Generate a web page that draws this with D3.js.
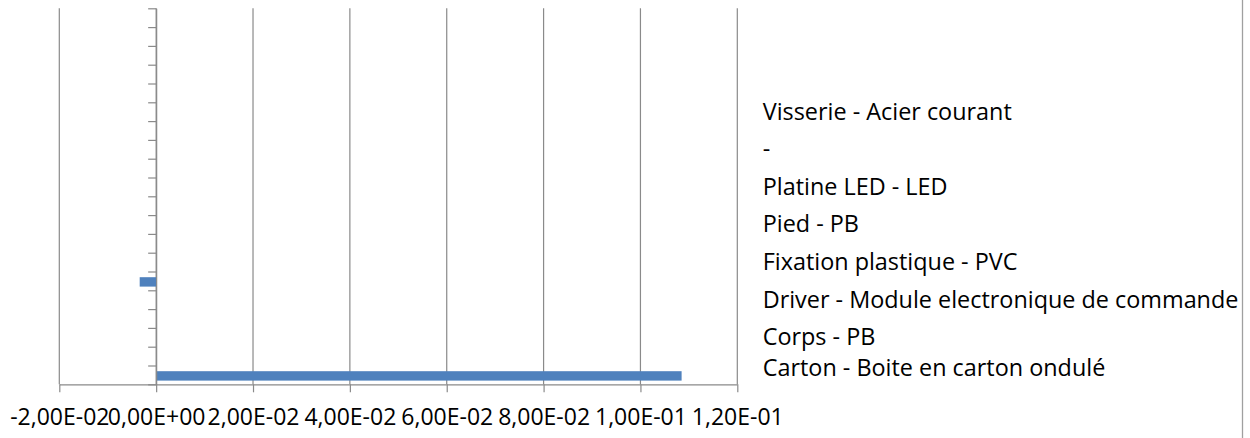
<!DOCTYPE html>
<html>
<head>
<meta charset="utf-8">
<script src="https://cdn.jsdelivr.net/npm/d3@7"></script>
<style>
  html, body { margin: 0; padding: 0; background: #fff; }
  svg { display: block; }
  text { font-family: "Open Sans", "Noto Sans", sans-serif; fill: #000; }
</style>
</head>
<body>
<svg id="chart" width="1250" height="438"></svg>
<script>
// ---- Data ----
const categories = d3.range(1, 21).map(String);   // 20 category slots (unlabelled)
const values = [0.1085, 0, 0, 0, 0, -0.0034, 0, 0, 0, 0, 0, 0, 0, 0, 0, 0, 0, 0, 0, 0];
const xTickValues = [-0.02, 0, 0.02, 0.04, 0.06, 0.08, 0.10, 0.12];
const xTickLabels = ["-2,00E-02", "0,00E+00", "2,00E-02", "4,00E-02", "6,00E-02", "8,00E-02", "1,00E-01", "1,20E-01"];
const legendLabels = [
  "Visserie - Acier courant",
  "-",
  "Platine LED - LED",
  "Pied - PB",
  "Fixation plastique - PVC",
  "Driver - Module electronique de commande",
  "Corps - PB",
  "Carton - Boite en carton ondulé"
];

// ---- Layout ----
const W = 1250, H = 438;
const plot = { left: 59.3, right: 737.3, top: 8.3, bottom: 384.3 };
const gridColor = "#8a8a8a";
const barColor = "#4f81bd";

const svg = d3.select("#chart");

const x = d3.scaleLinear().domain([-0.02, 0.12]).range([plot.left, plot.right]);
const y = d3.scaleBand().domain(categories).range([plot.bottom, plot.top])
  .paddingInner(0.5).paddingOuter(0.25);
const yEdge = d3.scaleLinear().domain([0, categories.length]).range([plot.bottom, plot.top]);

// vertical gridlines
svg.append("g").selectAll("line").data(xTickValues).join("line")
  .attr("x1", d => x(d)).attr("x2", d => x(d))
  .attr("y1", plot.top).attr("y2", plot.bottom)
  .attr("stroke", gridColor).attr("stroke-width", 1.2);

// bars
svg.append("g").selectAll("rect").data(values).join("rect")
  .attr("x", d => x(Math.min(0, d)))
  .attr("width", d => Math.abs(x(d) - x(0)))
  .attr("y", (d, i) => y(categories[i]) + 1)
  .attr("height", y.bandwidth())
  .attr("fill", barColor);

// bottom axis
const xAxis = svg.append("g").attr("transform", `translate(0,${plot.bottom})`)
  .call(d3.axisBottom(x).tickValues(xTickValues)
    .tickFormat((d, i) => xTickLabels[i]).tickSize(8).tickSizeOuter(0));
xAxis.select(".domain").attr("stroke", gridColor).attr("stroke-width", 1.2);
xAxis.selectAll(".tick line").attr("stroke", gridColor).attr("stroke-width", 1.2);
xAxis.selectAll(".tick text").attr("y", 41).attr("dy", null)
  .style("font-size", "23px").attr("fill", "#000");

// vertical category axis at zero
const yAxis = svg.append("g").attr("transform", `translate(${x(0)},0)`)
  .call(d3.axisLeft(yEdge).tickValues(d3.range(0, categories.length + 1))
    .tickFormat("").tickSize(8).tickSizeOuter(0));
yAxis.select(".domain").attr("stroke", gridColor).attr("stroke-width", 1.2);
yAxis.selectAll(".tick line").attr("stroke", gridColor).attr("stroke-width", 1.2);

// legend (text entries)
const legTop = 119.5, legStep = 37.6, legMaxY = 375.5;
svg.append("g").selectAll("text").data(legendLabels).join("text")
  .attr("x", 762.7)
  .attr("y", (d, i) => Math.min(legTop + i * legStep, legMaxY))
  .style("font-size", "23.4px")
  .text(d => d);

// chart border (right edge)
svg.append("line").attr("x1", 1242.5).attr("x2", 1242.5).attr("y1", 0).attr("y2", H)
  .attr("stroke", "#a0a0a0").attr("stroke-width", 1.3);
</script>
</body>
</html>
